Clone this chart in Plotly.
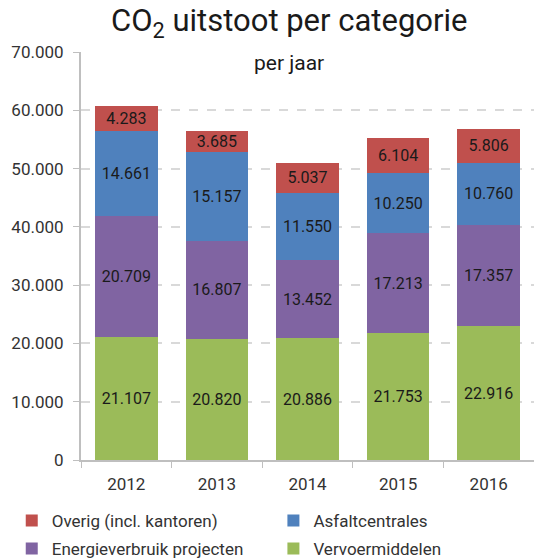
import plotly.graph_objects as go

years = ["2012", "2013", "2014", "2015", "2016"]
vervoer = [21107, 20820, 20886, 21753, 22916]
energie = [20709, 16807, 13452, 17213, 17357]
asfalt = [14661, 15157, 11550, 10250, 10760]
overig = [4283, 3685, 5037, 6104, 5806]

series = [
    ("Vervoermiddelen", vervoer, "#9BBB59", "legend4"),
    ("Energieverbruik projecten", energie, "#8064A2", "legend3"),
    ("Asfaltcentrales", asfalt, "#4F81BD", "legend2"),
    ("Overig (incl. kantoren)", overig, "#C0504D", "legend"),
]

FONT = "Roboto"
fig = go.Figure()
for name, vals, col, lg in series:
    fig.add_trace(go.Bar(
        x=years, y=vals, name=name, marker=dict(color=col, line=dict(width=0)),
        texttemplate="%{y:,}", textposition="inside", insidetextanchor="middle",
        textfont=dict(color="#1a1a1a", size=16, family=FONT), textangle=0,
        legend=lg, hoverinfo="skip",
    ))

legend_common = dict(orientation="v", yanchor="top", xanchor="left",
                     xref="container", yref="container",
                     font=dict(size=17, family=FONT, color="#333333"),
                     itemwidth=30, tracegroupgap=0, bgcolor="rgba(0,0,0,0)")

fig.update_layout(
    barmode="stack", bargap=0.31,
    separators=",.",
    width=534, height=559,
    margin=dict(l=81, r=0, t=52, b=99, autoexpand=False),
    paper_bgcolor="white", plot_bgcolor="white",
    font=dict(family=FONT, color="#333333"),
    uniformtext=dict(mode="show", minsize=16),
    legend=dict(x=0.022, y=0.1002, **legend_common),
    legend2=dict(x=0.512, y=0.1002, **legend_common),
    legend3=dict(x=0.022, y=0.0501, **legend_common),
    legend4=dict(x=0.512, y=0.0501, **legend_common),
    showlegend=True,
    xaxis=dict(showline=True, linecolor="#BFBFBF", linewidth=2,
               ticks="outside", tickson="boundaries", ticklen=6, tickcolor="#BFBFBF",
               ticklabelstandoff=8,
               tickfont=dict(size=17, family=FONT, color="#333333")),
    yaxis=dict(range=[0, 70000], dtick=10000, tickformat=",d",
               showline=True, linecolor="#BFBFBF", linewidth=2,
               ticks="outside", ticklen=6, tickcolor="#BFBFBF",
               ticklabelstandoff=6,
               showgrid=True, gridcolor="#D9D9D9", griddash="dash", gridwidth=1.5,
               zeroline=False,
               tickfont=dict(size=17, family=FONT, color="#333333")),
)

fig.add_annotation(text="CO<sub>2</sub> uitstoot per categorie", xref="paper", yref="paper",
                   x=0.46, y=1.0, yshift=30, showarrow=False,
                   font=dict(size=31, family=FONT, color="#1a1a1a"), yanchor="middle")
fig.add_annotation(text="per jaar", xref="paper", yref="paper",
                   x=0.46, y=1.0, yshift=-11, showarrow=False,
                   font=dict(size=21, family=FONT, color="#1a1a1a"), yanchor="middle")

fig.write_html("out.html", config={"displayModeBar": False},
               post_script="document.body.style.margin='0';")
